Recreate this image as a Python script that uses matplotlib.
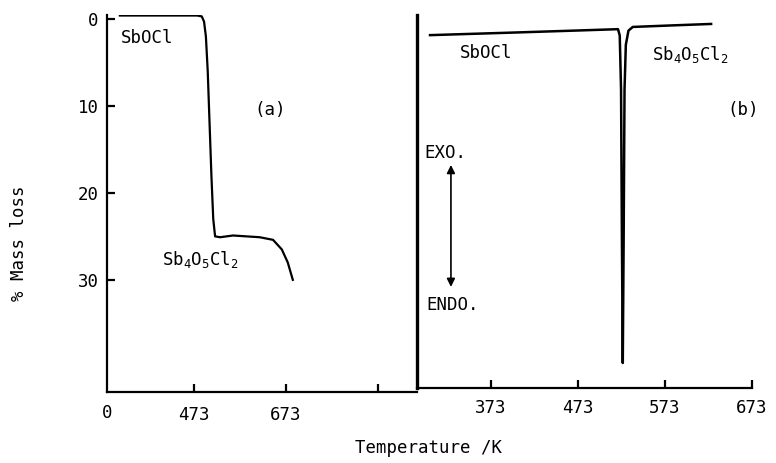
import matplotlib
matplotlib.use("Agg")
import matplotlib.pyplot as plt

plt.rcParams['font.family'] = ['DejaVu Sans Mono']
plt.rcParams['mathtext.fontset'] = 'custom'
plt.rcParams['mathtext.rm'] = 'DejaVu Sans Mono'
plt.rcParams['mathtext.it'] = 'DejaVu Sans Mono'
FS = 12.5

# (a) TGA: temperature /K vs % mass loss
tga_T = [312, 400, 480, 490, 495, 499, 503, 507, 511, 515, 519, 530, 558, 616, 645, 664, 677, 688]
tga_loss = [-0.4, -0.4, -0.4, -0.3, 0.3, 2, 6, 12, 18, 23, 25.0, 25.1, 24.9, 25.1, 25.4, 26.5, 28, 30]
tga_yticks = [0, 10, 20, 30]
tga_xticks = [473, 673, 873]
tga_xlabels = ['473', '673', '']

# (b) DTA: temperature /K vs signal (arbitrary)
dta_T = [303, 400, 480, 519, 521, 522.5, 523.5, 524.5, 525.5, 526.5, 528, 531, 536, 580, 626]
dta_sig = [94.6, 95.3, 95.9, 96.2, 94.5, 80, 40, 6.7, 40, 80, 92, 95.8, 96.8, 97.2, 97.6]
dta_xticks = [373, 473, 573, 673]

W, H = 776, 463
fig = plt.figure(figsize=(W / 100, H / 100), dpi=100)

def box(x0, y0, x1, y1):
    return [x0 / W, 1 - y1 / H, (x1 - x0) / W, (y1 - y0) / H]

axa = fig.add_axes(box(107, 15, 417, 392))
axb = fig.add_axes(box(417, 15, 752, 388))

# ---- panel (a)
axa.plot(tga_T, tga_loss, color='black', lw=1.6)
axa.set_xlim(284, 958)
axa.set_ylim(42.9, -0.46)
for s in ['top', 'right']:
    axa.spines[s].set_visible(False)
for s in ['left', 'bottom']:
    axa.spines[s].set_linewidth(1.6)
axa.set_yticks(tga_yticks)
axa.set_yticklabels([str(v) for v in tga_yticks], fontsize=FS)
axa.set_xticks(tga_xticks)
axa.set_xticklabels(tga_xlabels, fontsize=FS)
axa.tick_params(axis='y', direction='in', length=6, width=1.6, pad=6)
axa.tick_params(axis='x', direction='in', length=6, width=1.6, pad=10)
# origin label without a tick mark
axa.text(284, -0.033, '0', transform=axa.get_xaxis_transform(), fontsize=FS,
         ha='center', va='top')

axa.text(314, 2.2, 'SbOCl', fontsize=FS, va='center')
axa.text(638, 10.5, '(a)', fontsize=FS, ha='center', va='center')
axa.text(403, 27.7, 'Sb$_4$O$_5$Cl$_2$', fontsize=FS, va='center')
axa.set_ylabel('% Mass loss', fontsize=FS)
axa.yaxis.set_label_coords(-0.255, 0.395)

# ---- panel (b)
axb.plot(dta_T, dta_sig, color='black', lw=1.8)
axb.set_xlim(288, 673)
axb.set_ylim(0, 100)
for s in ['top', 'right']:
    axb.spines[s].set_visible(False)
axb.spines['left'].set_linewidth(2.4)
axb.spines['bottom'].set_linewidth(1.6)
axb.set_yticks([])
axb.set_xticks(dta_xticks)
axb.set_xticklabels([str(v) for v in dta_xticks], fontsize=FS)
axb.tick_params(axis='x', direction='in', length=6, width=1.6, pad=8)

axb.text(337, 89.8, 'SbOCl', fontsize=FS, va='center')
axb.text(558, 89.3, 'Sb$_4$O$_5$Cl$_2$', fontsize=FS, va='center')
axb.text(663, 74.5, '(b)', fontsize=FS, ha='center', va='center')
axb.text(297, 63, 'EXO.', fontsize=FS, va='center')
axb.text(299, 22.3, 'ENDO.', fontsize=FS, va='center')
axb.annotate('', xy=(327, 59.8), xytext=(327, 27.1),
             arrowprops=dict(arrowstyle='<|-|>', color='black', lw=1.2,
                             mutation_scale=12, shrinkA=0, shrinkB=0))

fig.text(428 / W, 1 - 448 / H, 'Temperature /K', fontsize=FS, ha='center', va='center')

fig.savefig('out.png', dpi=100, facecolor='white')
